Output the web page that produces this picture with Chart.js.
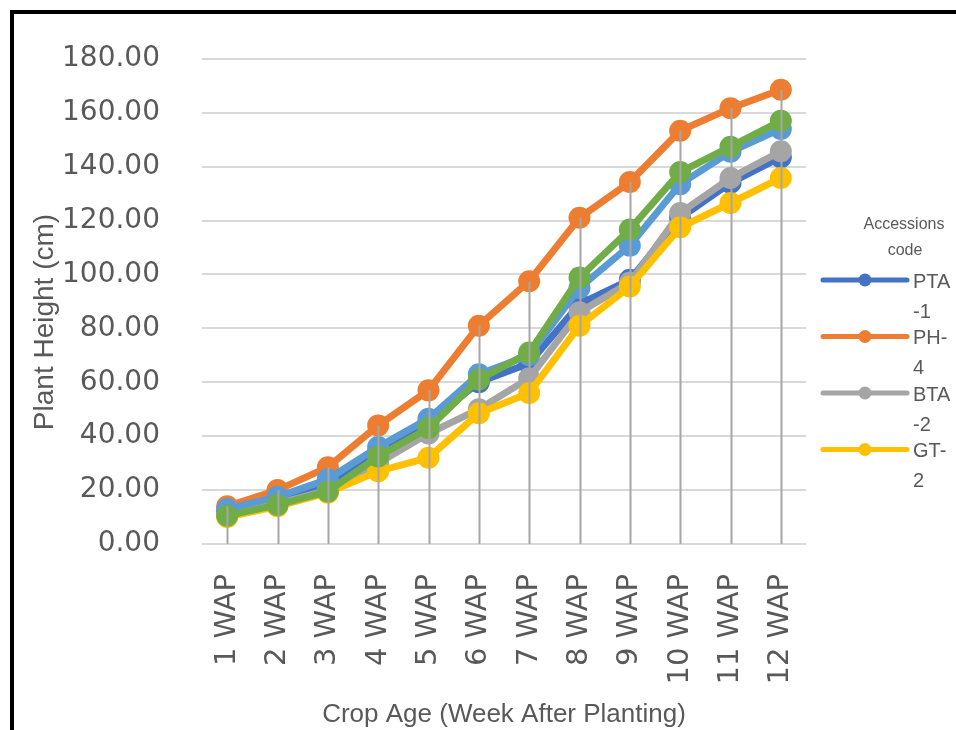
<!DOCTYPE html>
<html>
<head>
<meta charset="utf-8">
<script src="https://cdn.jsdelivr.net/npm/chart.js@4.4.0/dist/chart.umd.min.js"></script>
<style>
    html, body { margin: 0; padding: 0; background: #fff; overflow: hidden; }
    #frame { position: absolute; left: 10px; top: 10px; width: 1000px; height: 800px; border: 4px solid #000; }
    #wrap { position: absolute; left: 0; top: 0; width: 956px; height: 730px; }
</style>
</head>
<body>
<div id="frame"></div>
<div id="wrap"><canvas id="heightChart" width="956" height="730"></canvas></div>
<script>
// plant height (cm) per accession
const weeks = ["1 WAP", "2 WAP", "3 WAP", "4 WAP", "5 WAP", "6 WAP",
    "7 WAP", "8 WAP", "9 WAP", "10 WAP", "11 WAP", "12 WAP"];
const pta1 = [12, 16.5, 22, 34, 45, 60, 67, 89, 98, 121, 134, 143.5];
const ph4 = [14, 20, 28.5, 44, 57, 81, 97.5, 121, 134.3, 153.3, 161.7, 168.5];
const bta2 = [11, 15, 20, 30, 41, 50, 61.5, 86, 97, 122.8, 135.8, 145.7];
const gt2 = [10, 14, 19, 27, 32, 48.5, 56, 81, 95.5, 117.5, 126.5, 135.8];
const series5 = [13, 17.5, 24, 36, 46.5, 63, 70, 95, 110.7, 133.5, 145.5, 154];
const series6 = [10.5, 14.5, 19.5, 32.5, 43, 61, 71, 98.9, 116.7, 138, 147.4, 157];
const yTicks = [0, 20, 40, 60, 80, 100, 120, 140, 160, 180];

const names = ["PTA-1", "PH-4", "BTA-2", "GT-2", "Series5", "Series6"];
const colors = ["#4472C4", "#ED7D31", "#A5A5A5", "#FFC000", "#5B9BD5", "#70AD47"];
const values = [pta1, ph4, bta2, gt2, series5, series6];
const legendCount = 4; // only four entries fit in the original legend

const textColor = "#595959";

// vertical drop lines from the highest point down to the axis
const dropLines = {
    id: "dropLines",
    afterDatasetsDraw(chart) {
        const ctx = chart.ctx;
        const xs = chart.scales.x;
        const ys = chart.scales.y;
        ctx.save();
        ctx.strokeStyle = "#A6A6A6";
        ctx.lineWidth = 2;
        weeks.forEach((w, i) => {
            const top = Math.max(...chart.data.datasets.map((d) => d.data[i]));
            const x = Math.round(xs.getPixelForValue(i)) + 0.5;
            ctx.beginPath();
            ctx.moveTo(x, ys.getPixelForValue(top));
            ctx.lineTo(x, ys.getPixelForValue(0));
            ctx.stroke();
        });
        ctx.restore();
    },
};

// y title sits a bit below the plot centre in the original, so draw it here
const yTitle = {
    id: "yTitle",
    afterDraw(chart) {
        const ctx = chart.ctx;
        ctx.save();
        ctx.translate(45, 322);
        ctx.rotate(-Math.PI / 2);
        ctx.fillStyle = textColor;
        ctx.textAlign = "center";
        ctx.textBaseline = "middle";
        ctx.font = "28px 'Liberation Sans'";
        ctx.fillText("Plant Height (cm)", 0, 0);
        ctx.restore();
    },
};

// legend in the Excel style: line with a marker, labels wrapped on two lines
const accessionLegend = {
    id: "accessionLegend",
    afterDraw(chart) {
        const ctx = chart.ctx;
        const left = chart.chartArea.right + 17;
        ctx.save();
        ctx.fillStyle = textColor;
        ctx.textAlign = "center";
        ctx.textBaseline = "middle";
        ctx.font = "16px 'Liberation Sans'";
        ctx.fillText("Accessions", 904, 225);
        ctx.fillText("code", 905, 251);

        ctx.textAlign = "left";
        ctx.font = "20px 'Liberation Sans'";
        chart.data.datasets.slice(0, legendCount).forEach((ds, i) => {
            const y = 280 + i * 56.5;
            ctx.strokeStyle = ds.borderColor;
            ctx.lineWidth = 5;
            ctx.lineCap = "round";
            ctx.beginPath();
            ctx.moveTo(left, y);
            ctx.lineTo(left + 84, y);
            ctx.stroke();
            ctx.fillStyle = ds.borderColor;
            ctx.beginPath();
            ctx.arc(left + 42, y, 6.5, 0, Math.PI * 2);
            ctx.fill();
            ctx.fillStyle = textColor;
            ctx.fillText(ds.label.slice(0, 3), left + 90, y + 2);
            ctx.fillText(ds.label.slice(3), left + 90, y + 32);
        });
        ctx.restore();
    },
};

const ctx = document.getElementById("heightChart").getContext("2d");

new Chart(ctx, {
    type: "line",
    data: {
        labels: weeks,
        datasets: values.map((v, i) => ({
            label: names[i],
            data: v,
            borderColor: colors[i],
            backgroundColor: colors[i],
            pointBackgroundColor: colors[i],
            borderWidth: 7,
            pointRadius: 11,
            pointBorderWidth: 0,
            pointHoverRadius: 11,
            tension: 0,
            order: values.length - i,
        })),
    },
    options: {
        responsive: false,
        animation: false,
        layout: { padding: { top: 55, right: 150, bottom: 0, left: 0 } },
        plugins: {
            legend: { display: false },
            tooltip: { enabled: false },
        },
        scales: {
            x: {
                offset: true,
                grid: { display: false },
                border: { display: false },
                ticks: {
                    autoSkip: false,
                    maxRotation: 90,
                    minRotation: 90,
                    padding: 22,
                    color: textColor,
                    font: { family: "'DejaVu Sans'", size: 29 },
                },
                title: {
                    display: true,
                    text: "Crop Age (Week After Planting)",
                    color: textColor,
                    font: { family: "'Liberation Sans'", size: 26 },
                    padding: { top: 0, bottom: 0 },
                },
                afterFit(scale) {
                    scale.height = 186;
                },
            },
            y: {
                min: 0,
                max: 180,
                afterBuildTicks(scale) {
                    scale.ticks = yTicks.map((v) => ({ value: v }));
                },
                grid: { color: "#D9D9D9", lineWidth: 2, drawTicks: false },
                border: { display: false },
                ticks: {
                    padding: 42,
                    color: textColor,
                    font: { family: "'DejaVu Sans'", size: 28 },
                    callback: (v) => v.toFixed(2),
                },
                afterFit(scale) {
                    scale.width = 202;
                },
            },
        },
    },
    plugins: [dropLines, yTitle, accessionLegend],
});
</script>
</body>
</html>
